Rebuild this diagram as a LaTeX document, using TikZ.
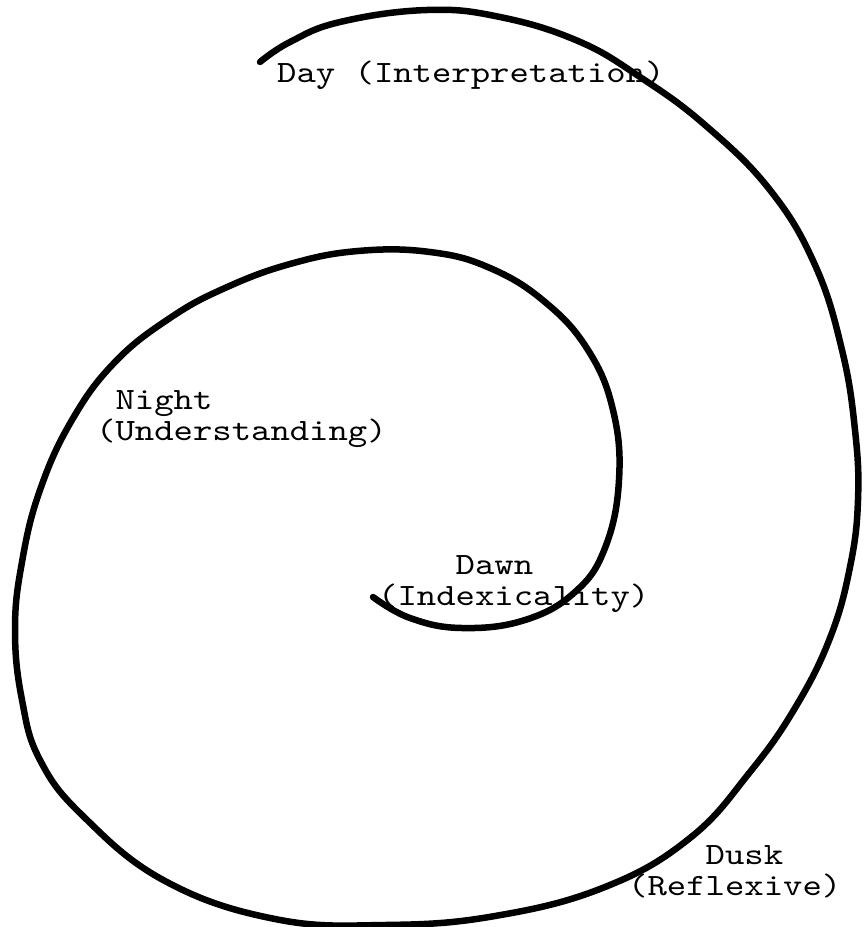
\documentclass[tikz,border=0pt]{standalone}
\usepackage{fontspec}
\newfontfamily\typewr[FakeStretch=1.19]{lmmono10-regular.otf}
\begin{document}
\begin{tikzpicture}[x=1pt,y=-1pt,
  spiral/.style={line width=6.5pt,line cap=round,line join=round},
  lbl/.style={font=\typewr\fontsize{31}{31}\selectfont,anchor=base west,inner sep=0pt,align=left}]
\useasboundingbox (0,0) rectangle (863,927);
\coordinate (inner) at (373,597);
\coordinate (outer) at (260,62);
\draw[spiral] plot[smooth,tension=0.7] coordinates {
(373,597) (410,618) (462,628) (525,620) (575,592) (605,548) (619,480)
(613,410) (588,350) (545,302) (490,268) (430,252) (358,251) (290,264)
(225,288) (170,318) (115,362) (72,420) (40,490) (22,562) (15,630)
(22,700) (40,760) (83,816) (165,881) (275,919) (385,925) (495,916)
(605,887) (690,838) (750,772) (795,708) (830,638) (850,567) (858,500)
(855,430) (842,350) (815,265) (770,190) (705,125) (640,77) (578,41)
(500,17) (427,10) (340,22) (290,42) (260,62)};
\node[lbl] (day) at (277,82) {Day (Interpretation)};
\node[lbl] (night) at (96,440) {\phantom{x}Night\\(Understanding)};
\node[lbl] (dawn) at (378,605) {\phantom{xxxx}Dawn\\(Indexicality)};
\node[lbl] (dusk) at (628,895) {\phantom{xxxx}Dusk\\(Reflexive)};
\end{tikzpicture}
\end{document}
